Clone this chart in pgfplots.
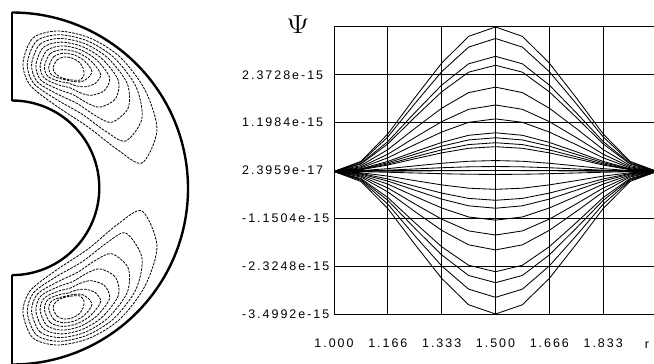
\documentclass[border=0pt]{standalone}
\usepackage{fontspec}
\setmainfont{Liberation Sans}
\newfontfamily\tickfont[LetterSpace=16]{Liberation Sans}
\usepackage{pgfplots}
\usepackage{pgfplotstable}
\pgfplotsset{compat=1.18}

% Psi(r) profiles, in units of 1e-15
\pgfplotstableread{
r a1 a2 a3 a4 a5 a6 a7 a8 a9 a10 a11 a12 a13 a14 a15 a16 a17 a18 a19 a20 a21 a22 a23 a24 a25
1.0000 0 0 0 0 0 0 0 0 0 0 0 0 0 0 0 0 0 0 0 0 0 0 0 0 0
1.0833 0.248 0.229 0.198 0.182 0.145 0.114 0.090 0.067 0.058 0.049 0.043 0.019 0.009 0.002 -0.005 -0.031 -0.049 -0.063 -0.084 -0.109 -0.135 -0.172 -0.191 -0.216 -0.245
1.1667 0.922 0.849 0.735 0.678 0.538 0.424 0.336 0.247 0.215 0.184 0.158 0.070 0.032 0.006 -0.019 -0.114 -0.184 -0.235 -0.311 -0.406 -0.501 -0.640 -0.710 -0.803 -0.910
1.2500 1.809 1.665 1.442 1.330 1.056 0.832 0.658 0.485 0.422 0.360 0.311 0.137 0.062 0.012 -0.037 -0.224 -0.361 -0.460 -0.609 -0.796 -0.982 -1.256 -1.392 -1.576 -1.785
1.3333 2.660 2.449 2.120 1.955 1.553 1.224 0.968 0.713 0.621 0.530 0.457 0.201 0.092 0.018 -0.055 -0.329 -0.530 -0.677 -0.896 -1.170 -1.445 -1.847 -2.048 -2.318 -2.624
1.4167 3.317 3.053 2.643 2.438 1.936 1.526 1.207 0.888 0.774 0.660 0.569 0.251 0.114 0.022 -0.068 -0.410 -0.661 -0.843 -1.117 -1.459 -1.801 -2.302 -2.553 -2.889 -3.272
1.5000 3.5472 3.265 2.827 2.607 2.071 1.632 1.291 0.950 0.828 0.706 0.609 0.268 0.122 0.024 -0.073 -0.439 -0.707 -0.902 -1.195 -1.560 -1.926 -2.462 -2.730 -3.090 -3.4992
1.5833 3.317 3.053 2.643 2.438 1.936 1.526 1.207 0.888 0.774 0.660 0.569 0.251 0.114 0.022 -0.068 -0.410 -0.661 -0.843 -1.117 -1.459 -1.801 -2.302 -2.553 -2.889 -3.272
1.6667 2.660 2.449 2.120 1.955 1.553 1.224 0.968 0.713 0.621 0.530 0.457 0.201 0.092 0.018 -0.055 -0.329 -0.530 -0.677 -0.896 -1.170 -1.445 -1.847 -2.048 -2.318 -2.624
1.7500 1.809 1.665 1.442 1.330 1.056 0.832 0.658 0.485 0.422 0.360 0.311 0.137 0.062 0.012 -0.037 -0.224 -0.361 -0.460 -0.609 -0.796 -0.982 -1.256 -1.392 -1.576 -1.785
1.8333 0.922 0.849 0.735 0.678 0.538 0.424 0.336 0.247 0.215 0.184 0.158 0.070 0.032 0.006 -0.019 -0.114 -0.184 -0.235 -0.311 -0.406 -0.501 -0.640 -0.710 -0.803 -0.910
1.9167 0.248 0.229 0.198 0.182 0.145 0.114 0.090 0.067 0.058 0.049 0.043 0.019 0.009 0.002 -0.005 -0.031 -0.049 -0.063 -0.084 -0.109 -0.135 -0.172 -0.191 -0.216 -0.245
2.0000 0 0 0 0 0 0 0 0 0 0 0 0 0 0 0 0 0 0 0 0 0 0 0 0 0
}\psidata

\begin{document}
\begin{tikzpicture}[x=1bp,y=1bp]
\path[use as bounding box] (0,0) rectangle (654,363);
% ---------- left: streamline contours in the half annulus ----------
\begin{axis}[at={(0bp,0bp)}, anchor=south west, scale only axis,
  x=1bp, y=1bp, y dir=reverse,
  xmin=0, xmax=230, ymin=0, ymax=363,
  axis lines=none, clip=true,
  cont/.style={black, line width=0.8bp, mark=none, dash pattern=on 2.6bp off 1.1bp, smooth cycle}]
% upper vortex
\addplot[cont] coordinates {(23,63)(33,38)(58,31)(90,38)(120,57)(145,90)(157,130)(142,163)(118,150)(88,127)(55,105)(30,85)};
\addplot[cont] coordinates {(27.3,63.7)(36.4,41.1)(58.9,34.7)(87.4,40.9)(114.1,57.7)(136.1,86.9)(141.9,118.6)(125.6,141.0)(105.8,131.4)(82.2,114.3)(56.0,99.2)(33.6,83.3)};
\addplot[cont] coordinates {(31.6,64.4)(39.9,44.3)(59.7,38.4)(84.9,43.7)(108.3,58.4)(127.3,83.7)(128.1,108.2)(111.6,122.3)(95.5,115.7)(77.2,103.5)(57.0,93.9)(37.1,81.6)};
\addplot[cont] coordinates {(35.9,65.1)(43.3,47.4)(60.6,42.1)(82.3,46.6)(102.4,59.1)(118.4,80.6)(115.5,98.8)(100.2,107.1)(87.0,102.9)(73.2,94.7)(57.8,89.1)(40.7,79.9)};
\addplot[cont] coordinates {(40.1,65.9)(46.7,50.6)(61.4,45.9)(79.7,49.4)(96.6,59.9)(109.6,77.4)(104.5,90.4)(91.4,95.3)(80.5,92.9)(70.0,87.8)(58.6,84.9)(44.3,78.1)};
\addplot[cont] coordinates {(44.4,66.6)(50.1,53.7)(62.3,49.6)(77.1,52.3)(90.7,60.6)(100.7,74.3)(95.1,83.4)(85.1,86.8)(75.8,85.7)(67.8,82.9)(59.2,81.3)(47.9,76.4)};
\addplot[cont] coordinates {(48.7,67.3)(53.6,56.9)(63.1,53.3)(74.6,55.1)(84.9,61.3)(91.9,71.1)(87.9,78.0)(81.3,81.7)(72.9,81.4)(66.5,80.0)(59.7,78.5)(51.4,74.7)};
\addplot[cont] coordinates {(53,68)(57,60)(64,57)(72,58)(79,62)(83,68)(84,75)(80,80)(72,80)(66,79)(60,77)(55,73)};
% lower vortex
\addplot[cont] coordinates {(23,313)(33,338)(58,345)(90,338)(120,319)(145,286)(157,246)(142,211)(118,224)(88,249)(55,271)(30,291)};
\addplot[cont] coordinates {(27.3,312.3)(36.4,334.9)(58.9,341.3)(87.4,335.1)(114.1,318.3)(136.1,289.1)(141.9,257.4)(125.6,233.0)(105.8,243.6)(82.2,261.7)(56.0,276.8)(33.6,292.7)};
\addplot[cont] coordinates {(31.6,311.6)(39.9,331.7)(59.7,337.6)(84.9,332.3)(108.3,317.6)(127.3,292.3)(128.1,267.8)(111.6,253.7)(95.5,260.3)(77.2,272.5)(57.0,282.1)(37.1,294.4)};
\addplot[cont] coordinates {(35.9,310.9)(43.3,328.6)(60.6,333.9)(82.3,329.4)(102.4,316.9)(118.4,295.4)(115.5,277.2)(100.2,268.9)(87.0,273.1)(73.2,281.3)(57.8,286.9)(40.7,296.1)};
\addplot[cont] coordinates {(40.1,310.1)(46.7,325.4)(61.4,330.1)(79.7,326.6)(96.6,316.1)(109.6,298.6)(104.5,285.6)(91.4,280.7)(80.5,283.1)(70.0,288.2)(58.6,291.1)(44.3,297.9)};
\addplot[cont] coordinates {(44.4,309.4)(50.1,322.3)(62.3,326.4)(77.1,323.7)(90.7,315.4)(100.7,301.7)(95.1,292.6)(85.1,289.2)(75.8,290.3)(67.8,293.1)(59.2,294.7)(47.9,299.6)};
\addplot[cont] coordinates {(48.7,308.7)(53.6,319.1)(63.1,322.7)(74.6,320.9)(84.9,314.7)(91.9,304.9)(87.9,298.0)(81.3,294.3)(72.9,294.6)(66.5,296.0)(59.7,297.5)(51.4,301.3)};
\addplot[cont] coordinates {(53,308)(57,316)(64,319)(72,318)(79,314)(83,308)(84,301)(80,296)(72,296)(66,297)(60,299)(55,303)};
% annulus boundary
\draw[line width=2.4bp] (axis cs:12,12.5) arc[start angle=90, end angle=-90, radius=176bp];
\draw[line width=2.4bp] (axis cs:12,100.5) arc[start angle=90, end angle=-90, radius=87.3bp];
\draw[line width=1.6bp] (axis cs:12,11.5) -- (axis cs:12,101);
\draw[line width=1.6bp] (axis cs:12,275) -- (axis cs:12,364);
\end{axis}
% ---------- right: Psi(r) ----------
\begin{axis}[at={(334bp,49bp)}, anchor=south west, scale only axis,
  width=323bp, height=287bp,
  xmin=1, xmax=2, ymin=-3.4992, ymax=3.5472,
  xtick={1,1.16667,1.33333,1.5,1.66667,1.83333},
  xticklabels={1.000,1.166,1.333,1.500,1.666,1.833},
  ytick={-3.4992,-2.3248,-1.1504,0.023959,1.1984,2.3728},
  yticklabels={-3.4992e-15,-2.3248e-15,-1.1504e-15,2.3959e-17,1.1984e-15,2.3728e-15},
  grid=major, grid style={black, line width=1bp, solid},
  major tick length=0pt,
  axis line style={line width=1bp},
  ticklabel style={font=\tickfont\fontsize{12.5}{13}\selectfont, inner sep=0pt},
  yticklabel style={anchor=west, xshift=-92bp},
  xticklabel style={anchor=base, yshift=-33bp},
  clip=true]
\pgfplotsinvokeforeach{1,...,25}{
  \addplot[black, line width=0.85bp, mark=none] table[x=r, y=a#1] {\psidata};
}
\end{axis}
\node at (298bp,338bp) {\scalebox{1.3}[1.05]{\fontsize{25}{25}\selectfont$\Psi$}};
\node[anchor=base, font=\tickfont\fontsize{12.5}{13}\selectfont] at (647bp,15bp) {r};
\end{tikzpicture}
\end{document}
